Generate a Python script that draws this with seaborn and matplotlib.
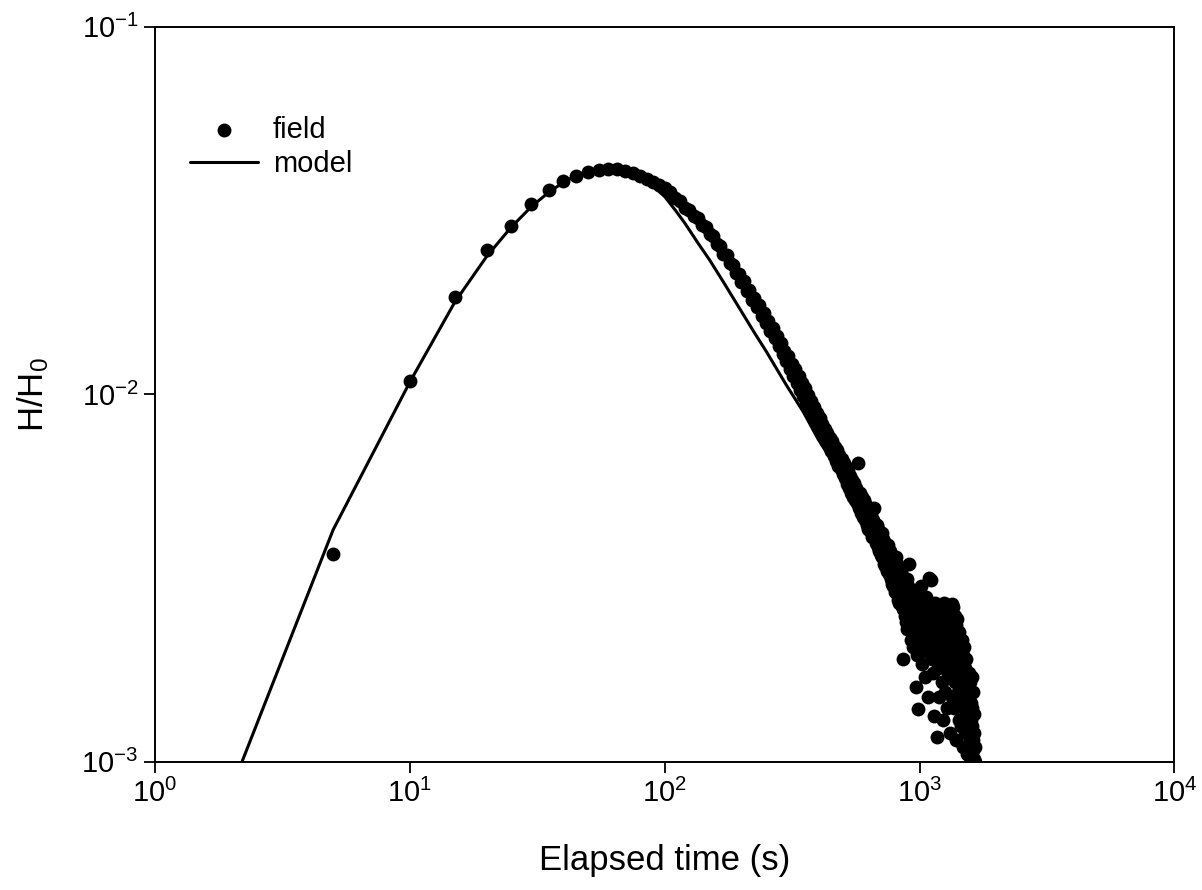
import numpy as np
import pandas as pd
import seaborn as sns
import matplotlib.pyplot as plt
from matplotlib.ticker import LogLocator, LogFormatterSciNotation, NullLocator

# field record, sampled every 5 s
t_field = np.arange(5, 1655, 5)
h_field = [
    0.00368, 0.0109, 0.0184, 0.0247, 0.0287, 0.0330, 0.0360, 0.0381, 0.0393, 0.0403,
    0.0407, 0.0409, 0.0409, 0.0405, 0.0400, 0.0393, 0.0386, 0.0378, 0.0371, 0.0363,
    0.0356, 0.0341, 0.0336, 0.0322, 0.0318, 0.0305, 0.0301, 0.0289, 0.0285, 0.0273,
    0.0270, 0.0256, 0.0253, 0.0241, 0.0239, 0.0227, 0.0225, 0.0214, 0.0212, 0.0202,
    0.0203, 0.0191, 0.0192, 0.0181, 0.0183, 0.0173, 0.0175, 0.0163, 0.0166, 0.0156,
    0.0158, 0.0149, 0.0151, 0.0142, 0.0144, 0.0135, 0.0138, 0.0129, 0.0131, 0.0123,
    0.0127, 0.0117, 0.0121, 0.0112, 0.0117, 0.0107, 0.0112, 0.0103, 0.0107, 0.0099,
    0.0104, 0.00950, 0.00995, 0.00915, 0.00960, 0.00880, 0.00925, 0.00850, 0.00890, 0.00815,
    0.00860, 0.00795, 0.00830, 0.00770, 0.00805, 0.00745, 0.00785, 0.00730, 0.00760, 0.00700,
    0.00745, 0.00680, 0.00720, 0.00660, 0.00705, 0.00640, 0.00685, 0.00625, 0.00665, 0.00605,
    0.00650, 0.00590, 0.00635, 0.00570, 0.00620, 0.00555, 0.00600, 0.00540, 0.00585, 0.00525,
    0.00575, 0.00515, 0.00555, 0.00505, 0.00650, 0.00490, 0.00540, 0.00475, 0.00525, 0.00465,
    0.00515, 0.00455, 0.00500, 0.00440, 0.00490, 0.00430, 0.00475, 0.00425, 0.00470, 0.00410,
    0.00455, 0.00490, 0.00410, 0.00445, 0.00395, 0.00440, 0.00385, 0.00430, 0.00375, 0.00415,
    0.00365, 0.00420, 0.00360, 0.00405, 0.00345, 0.00395, 0.00340, 0.00385, 0.00330, 0.00370,
    0.00390, 0.00325, 0.00375, 0.00315, 0.00365, 0.00305, 0.00355, 0.00300, 0.00350, 0.00290,
    0.00360, 0.00290, 0.00345, 0.00275, 0.00335, 0.00270, 0.00320, 0.00285, 0.00330, 0.00265,
    0.00320, 0.00260, 0.00190, 0.00310, 0.00250, 0.00295, 0.00240, 0.00315, 0.00230, 0.00280,
    0.00300, 0.00345, 0.00235, 0.00270, 0.00215, 0.00290, 0.00250, 0.00205, 0.00275, 0.00240,
    0.00285, 0.00225, 0.00160, 0.00260, 0.00195, 0.00270, 0.00139, 0.00235, 0.00290, 0.00210,
    0.00265, 0.00215, 0.00300, 0.00230, 0.00185, 0.00275, 0.00245, 0.00205, 0.00255, 0.00170,
    0.00240, 0.00280, 0.00200, 0.00255, 0.00225, 0.00150, 0.00265, 0.00316, 0.00210, 0.00245,
    0.00313, 0.00230, 0.00190, 0.00265, 0.00215, 0.00175, 0.00250, 0.00133, 0.00205, 0.00270,
    0.00235, 0.00195, 0.00250, 0.00117, 0.00220, 0.00180, 0.00260, 0.00205, 0.00150, 0.00240,
    0.00190, 0.00255, 0.00215, 0.00165, 0.00240, 0.00200, 0.00130, 0.00225, 0.00185, 0.00270,
    0.00210, 0.00155, 0.00235, 0.00190, 0.00245, 0.00140, 0.00205, 0.00175, 0.00260, 0.00195,
    0.00225, 0.00170, 0.00200, 0.00120, 0.00240, 0.00185, 0.00215, 0.00268, 0.00150, 0.00230,
    0.00264, 0.00195, 0.00140, 0.00220, 0.00250, 0.00165, 0.00205, 0.00115, 0.00235, 0.00180,
    0.00245, 0.00155, 0.00210, 0.00190, 0.00130, 0.00225, 0.00170, 0.00211, 0.00145, 0.00200,
    0.00185, 0.00125, 0.00215, 0.00160, 0.00195, 0.00110, 0.00175, 0.00140, 0.00205, 0.00150,
    0.00180, 0.00120, 0.00165, 0.00135, 0.00190, 0.00145, 0.00105, 0.00170, 0.00125, 0.00155,
    0.00140, 0.00175, 0.00112, 0.00150, 0.00103, 0.00165, 0.00130, 0.00118, 0.00145, 0.00170,
    0.00125, 0.00140, 0.00108, 0.00155, 0.00115, 0.00102, 0.00135, 0.00120, 0.00100, 0.00110,
]

t_model = [2, 5, 10, 15, 20, 25, 30, 35, 40, 45, 50, 55, 60, 65, 70, 80, 90, 100,
           110, 120, 135, 150, 170, 200, 225, 250, 300, 350, 400, 500, 600, 700,
           800, 1000, 1200, 1400, 1680]
h_model = [0.00085, 0.00428, 0.0108, 0.0178, 0.0237, 0.0285, 0.0324, 0.0354, 0.0377,
           0.0394, 0.0404, 0.0409, 0.0411, 0.0409, 0.0403, 0.0388, 0.0368, 0.0345,
           0.0317, 0.0292, 0.0258, 0.0232, 0.0202, 0.0168, 0.0147, 0.0131, 0.0106,
           0.00895, 0.00755, 0.00590, 0.00480, 0.00400, 0.00340, 0.00265, 0.00218,
           0.00185, 0.00156]

field = pd.DataFrame({'t': t_field, 'h': h_field})
model = pd.DataFrame({'t': t_model, 'h': h_model})

sns.set_style('ticks')
plt.rcParams['font.family'] = ['Liberation Sans', 'DejaVu Sans']
plt.rcParams['mathtext.fontset'] = 'custom'
plt.rcParams['mathtext.rm'] = 'Liberation Sans'
plt.rcParams['mathtext.it'] = 'Liberation Sans:italic'
plt.rcParams['axes.unicode_minus'] = False
plt.rcParams['text.color'] = 'black'
plt.rcParams['axes.labelcolor'] = 'black'
plt.rcParams['xtick.color'] = 'black'
plt.rcParams['ytick.color'] = 'black'

fig, ax = plt.subplots(figsize=(12.02, 8.90), dpi=100)
fig.subplots_adjust(left=0.129, right=0.977, top=0.970, bottom=0.144)

ax.set(xscale='log', yscale='log')
sns.scatterplot(data=field, x='t', y='h', ax=ax, color='black', s=100,
                linewidth=0, label='field', zorder=3)
sns.lineplot(data=model, x='t', y='h', ax=ax, color='black', lw=2.2,
             sort=False, estimator=None, label='model', zorder=2)

ax.set_xlim(1, 1e4)
ax.set_ylim(1e-3, 1e-1)
ax.xaxis.set_major_locator(LogLocator(base=10, numticks=10))
ax.yaxis.set_major_locator(LogLocator(base=10, numticks=10))
ax.xaxis.set_minor_locator(NullLocator())
ax.yaxis.set_minor_locator(NullLocator())
ax.xaxis.set_major_formatter(LogFormatterSciNotation())
ax.yaxis.set_major_formatter(LogFormatterSciNotation())
ax.tick_params(axis='both', which='major', direction='out', length=8, width=1.3,
               labelsize=21, color='black', labelcolor='black', pad=4)

for side in ['top', 'right', 'left', 'bottom']:
    ax.spines[side].set_visible(True)
    ax.spines[side].set_linewidth(1.4)
    ax.spines[side].set_color('black')

ax.set_xlabel('Elapsed time (s)', fontsize=25, labelpad=26)
ax.set_ylabel(r'H/H$_0$', fontsize=25, labelpad=22)

ax.legend(loc='upper left', bbox_to_anchor=(0.034, 0.879), frameon=False,
          borderaxespad=0, borderpad=0, fontsize=21, handlelength=2.35,
          handletextpad=0.5, labelspacing=0.22)

fig.savefig('out.png', dpi=100)
